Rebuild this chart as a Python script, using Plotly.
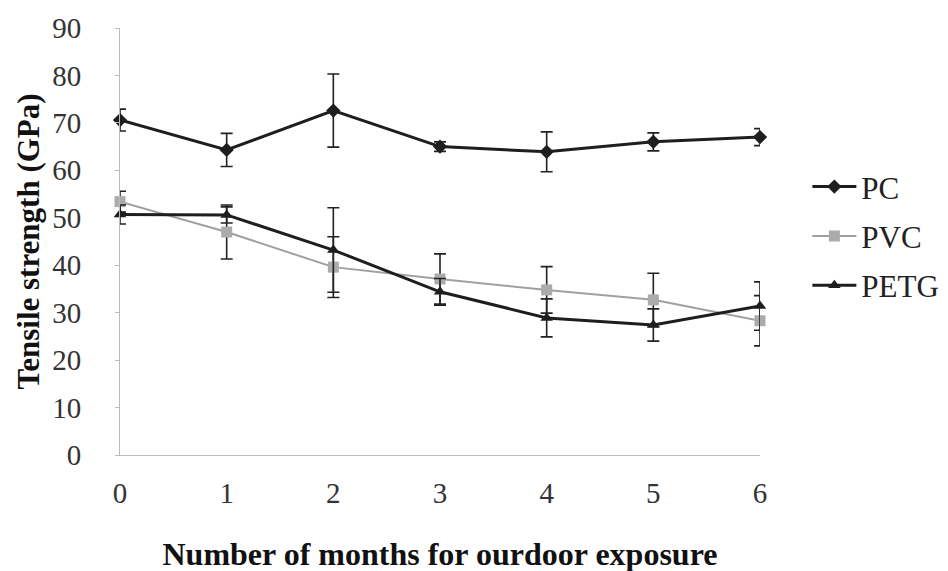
import plotly.graph_objects as go

months = [0, 1, 2, 3, 4, 5, 6]
x_tick_labels = ["0", "1", "2", "3", "4", "5", "6"]
y_ticks = [0, 10, 20, 30, 40, 50, 60, 70, 80, 90]

pc = [70.6, 64.3, 72.6, 65.0, 63.9, 66.0, 67.0]
pc_err = [2.3, 3.5, 7.7, 1.0, 4.2, 1.9, 1.8]
pvc = [53.4, 47.0, 39.6, 37.1, 34.8, 32.7, 28.3]
pvc_err = [2.2, 5.7, 6.4, 5.3, 4.9, 5.6, 5.3]
petg = [50.7, 50.6, 43.2, 34.4, 28.9, 27.4, 31.4]
petg_err = [2.0, 1.7, 8.9, 2.8, 4.0, 3.4, 5.1]

serif = "'Liberation Serif', 'DejaVu Serif', serif"

fig = go.Figure()

def add(name, y, err, color, lcolor, width, symbol, size):
    fig.add_trace(go.Scatter(
        x=months, y=y, name=name, mode="lines+markers",
        line=dict(color=lcolor, width=width),
        marker=dict(symbol=symbol, size=size, color=color),
        error_y=dict(type="data", array=err, visible=True,
                     color="#222222", thickness=1.6, width=6),
        legendgroup=name, cliponaxis=False,
    ))

add("PC", pc, pc_err, "#1e1e1e", "#1e1e1e", 3, "diamond", 11)
add("PVC", pvc, pvc_err, "#ababab", "#a0a0a0", 2, "square", 11)
add("PETG", petg, petg_err, "#1e1e1e", "#1e1e1e", 3, "triangle-up", 11)

fig.update_layout(
    width=948, height=571,
    margin=dict(l=112, r=194, t=20, b=124),
    plot_bgcolor="white", paper_bgcolor="white",
    font=dict(family=serif, size=28, color="#222222"),
    showlegend=True,
    legend=dict(x=1.074, y=0.513, yanchor="middle", xanchor="left",
                font=dict(family=serif, size=31, color="#222222"),
                tracegroupgap=6, itemwidth=44, bgcolor="rgba(0,0,0,0)"),
    xaxis=dict(range=[0, 6], tickvals=months, ticktext=x_tick_labels,
               showgrid=False, zeroline=False, showline=True,
               linecolor="#bbbbbb", linewidth=1, ticks="",
               automargin=False,
               ticklabelstandoff=12,
               tickfont=dict(family=serif, size=29, color="#333333"),
               title=dict(text="<b>Number of months for ourdoor exposure</b>",
                          font=dict(family=serif, size=32, color="#111111"),
                          standoff=34)),
    yaxis=dict(range=[0, 90], tickvals=y_ticks,
               showgrid=False, zeroline=False, showline=True,
               linecolor="#bbbbbb", linewidth=1, ticks="outside",
               ticklen=4, tickcolor="#bbbbbb",
               automargin=False,
               ticklabelstandoff=28,
               tickfont=dict(family=serif, size=29, color="#333333"),
               title=dict(text="<b>Tensile strength (GPa)</b>",
                          font=dict(family=serif, size=31, color="#111111"),
                          standoff=3)),
)

fig.write_html("out.html")
